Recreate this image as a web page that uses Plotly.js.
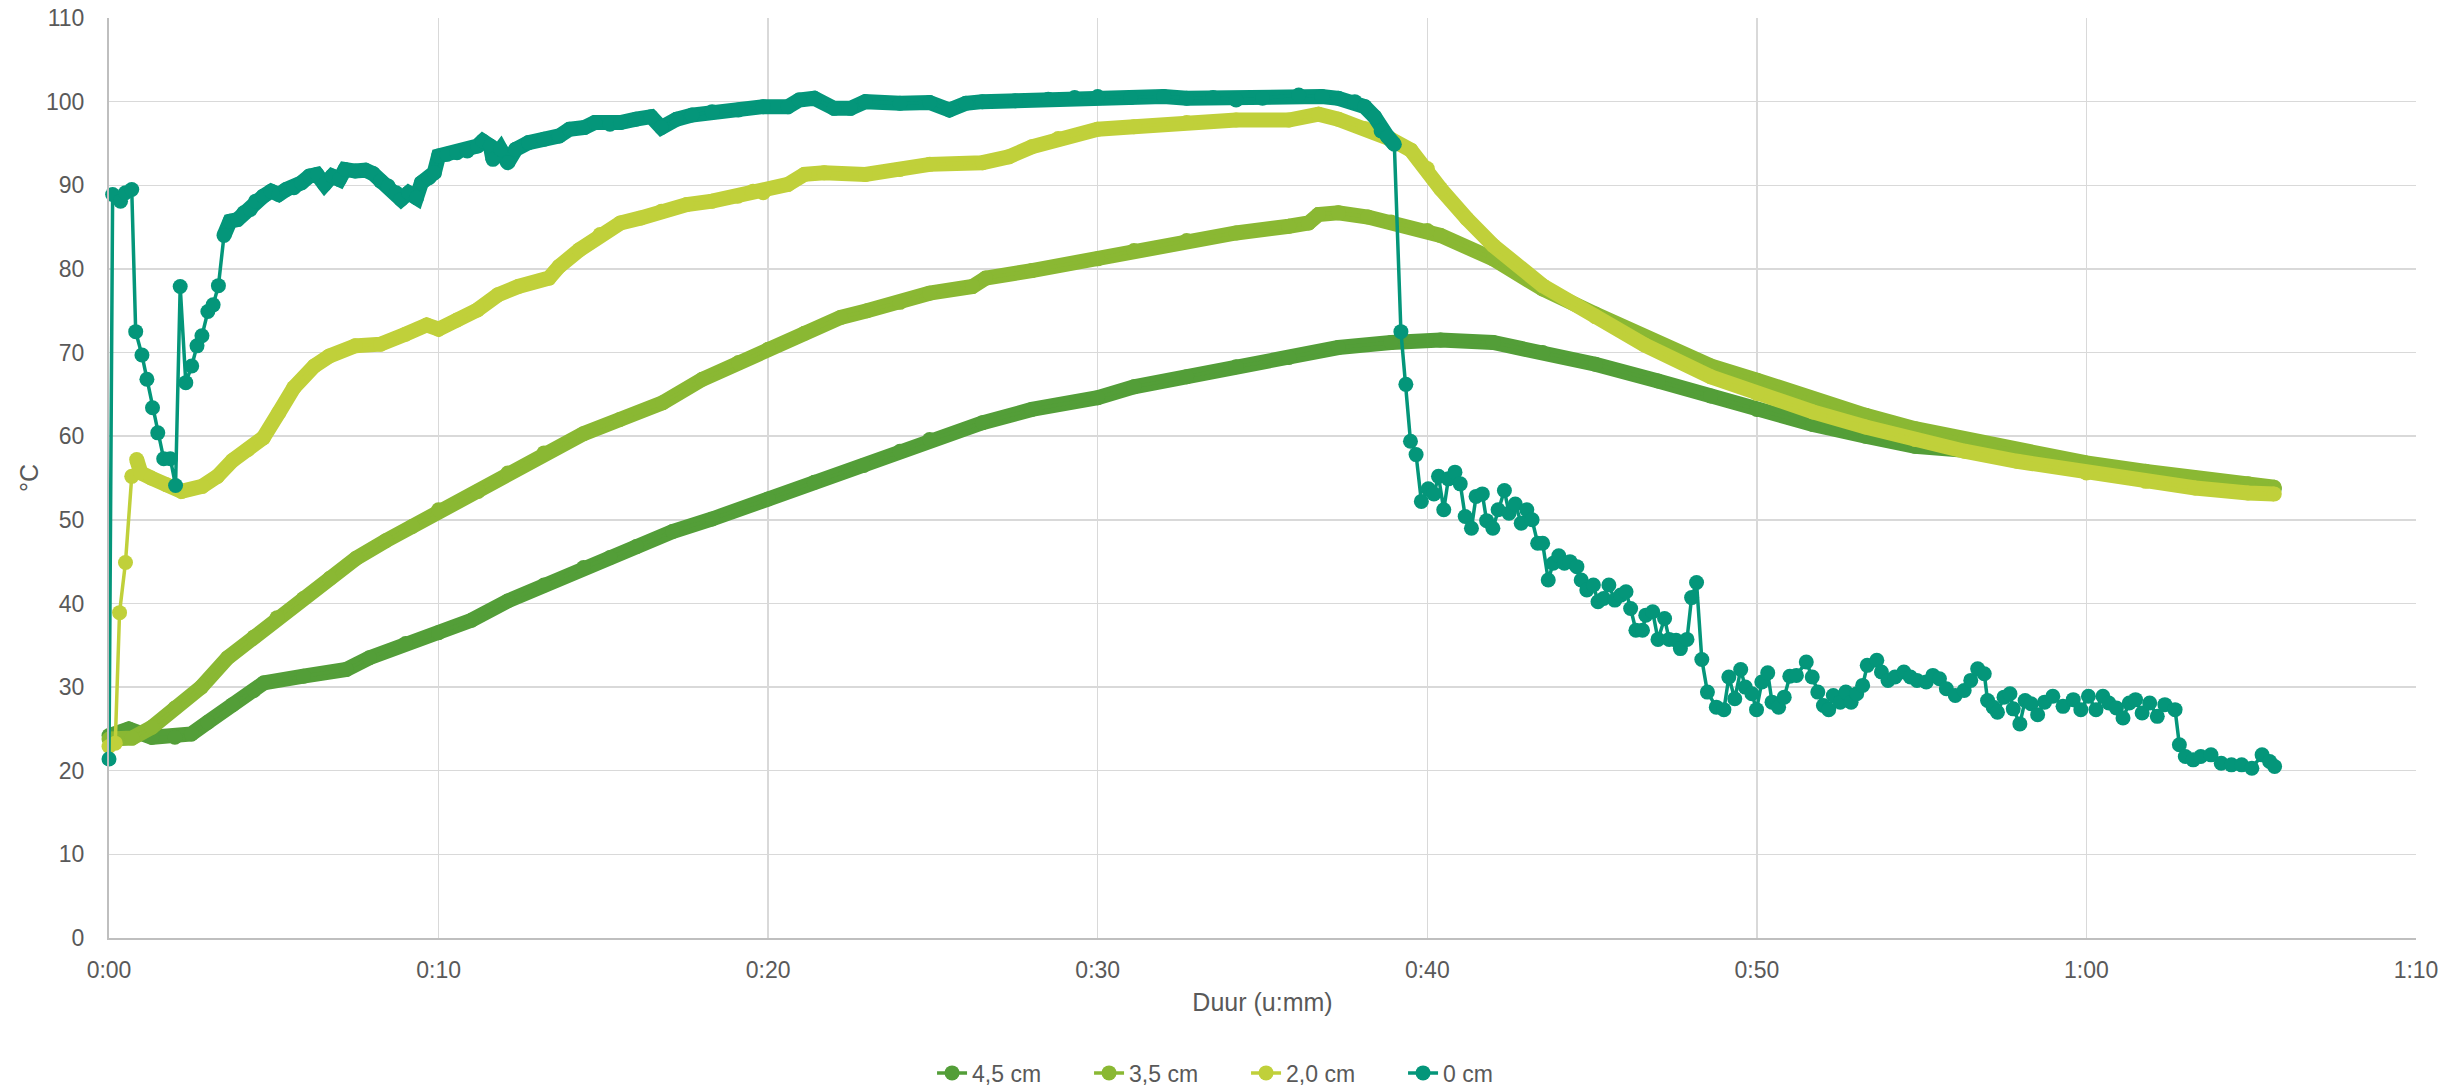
<!DOCTYPE html>
<html>
<head>
<meta charset="utf-8">
<script src="https://cdn.plot.ly/plotly-3.0.1.min.js"></script>
<style>
  html, body { margin: 0; padding: 0; background: #ffffff; }
  #chart { width: 2464px; height: 1087px; }
</style>
</head>
<body>
<div id="chart"></div>
<script>
// ---------- DATA (time in minutes, temperature in °C) ----------
const seriesNames = ['4,5 cm', '3,5 cm', '2,0 cm', '0 cm'];

const t45 = [0,0.6,1.3,2.0,2.5,3.0,3.75,4.4,4.7,5.9,
             7.2,7.9,9.0,10,11,12.1,13.2,14.4,15.2,16,
             17.1,18.3,20,21.4,22.9,24,24.9,26.5,28,30,
             31.1,32.7,34.2,35.8,37.3,38.9,40.4,42,43.5,45.1,
             47,48.6,50,51.7,53.3,54.8,56.3,57.9,60,61.8,
             63.3,64.9,65.7];
const v45 = [24.2,25.0,24.0,24.0,24.4,25.8,27.9,29.6,30.5,31.3,
             32.1,33.5,35.2,36.5,38.0,40.3,42.2,44.3,45.5,46.8,
             48.6,50.1,52.5,54.5,56.5,58.2,59.6,61.6,63.2,64.6,
             65.9,67.1,68.3,69.4,70.6,71.2,71.5,71.2,70.0,68.6,
             66.6,64.8,63.2,61.4,60.0,58.8,58.3,57.2,56.0,55.1,
             54.4,53.9,53.7];

const t35 = [0,0.7,1.3,2.0,2.8,3.6,4.4,5.1,5.9,6.7,
             7.5,8.4,9.2,10,11.2,12.1,13.2,14.4,15.5,16.8,
             18.0,19.1,20,21.1,22.2,23,24,24.9,26.2,26.6,
             28,30,31.1,32.7,34.2,35.8,36.4,36.7,37.3,38.2,
             38.9,40,40.4,42,43.5,45.1,47,48.6,50,51.7,
             53.3,54.8,56.3,57.9,60,61.8,63.3,64.9,65.7];
const v35 = [23.8,23.9,25.2,27.5,30.0,33.5,36.0,38.3,40.6,43.0,
             45.4,47.5,49.2,51.2,53.4,55.6,58.0,60.3,62.0,64.0,
             66.8,68.8,70.4,72.3,74.2,75.0,76.0,77.1,77.9,78.9,
             79.8,81.2,82.2,83.4,84.3,85.1,85.5,86.5,86.7,86.2,
             85.6,84.6,84.0,81.2,77.6,74.6,71.0,68.4,66.7,64.3,
             62.5,60.9,59.6,58.2,56.8,55.8,55.0,54.3,53.9];

const t20 = [0,0.19,0.32,0.5,0.69,0.84,0.97,1.28,1.74,2.2,
             2.83,3.29,3.75,4.22,4.68,5.15,5.61,6.23,6.69,7.47,
             8.24,9.0,9.64,10,10.56,11.18,11.8,12.42,13.35,13.66,
             14.28,14.9,15.52,16.14,16.76,17.53,18.3,19.08,19.54,19.85,
             20.6,21.1,21.7,22.95,24,24.9,26.5,27.3,28,28.8,
             30,31.1,32.7,34.2,35.8,36.7,37.3,38.1,38.9,39.5,
             40,40.4,41.2,42,43.5,45.1,46.6,48.6,50,51.7,
             53.3,54.8,56.3,57.9,60,61.8,63.3,64.9,65.7];
const v20 = [22.9,23.3,38.9,44.9,55.2,57.2,55.6,55.0,54.2,53.4,
             54.0,55.2,57.1,58.4,59.8,62.8,65.8,68.4,69.6,70.8,
             71.0,72.2,73.3,72.8,73.9,75.1,76.9,77.9,78.9,80.3,
             82.3,84.1,85.5,86.1,86.9,87.7,88.1,88.7,89.3,89.1,
             90.1,91.3,91.5,91.3,91.9,92.5,92.7,93.4,94.6,95.6,
             96.7,97.0,97.5,97.8,97.8,98.5,97.9,96.8,95.5,94.2,
             92.0,89.6,86.0,82.8,78.0,74.3,70.9,67.1,65.1,62.9,
             61.1,59.6,58.2,57.0,55.6,54.6,53.8,53.2,53.1];

const t0 = [0,0.11,0.35,0.5,0.69,0.81,1.0,1.15,1.32,1.48,
            1.66,1.86,2.02,2.16,2.33,2.51,2.67,2.82,3.0,3.16,
            3.32,3.49,3.67,3.9,4.09,4.29,4.45,4.68,4.92,5.15,
            5.38,5.61,5.84,6.08,6.31,6.54,6.77,6.99,7.16,7.47,
            7.78,8.01,8.24,8.47,8.71,8.86,9.09,9.33,9.48,9.71,
            9.87,10.0,10.25,10.56,10.87,11.18,11.34,11.57,11.65,11.88,
            12.1,12.34,12.73,13.2,13.66,13.97,14.43,14.74,15.2,15.52,
            15.99,16.45,16.76,17.22,17.69,18.3,19.1,19.85,20.6,20.94,
            21.4,22.0,22.5,22.95,24.0,24.9,25.5,26.0,26.5,27.5,
            28.5,29.3,30,31,32,32.7,33.5,34.2,35,36.1,
            36.8,37.3,37.8,38.1,38.4,38.6,38.8,39.0,39.2,39.35,
            39.49,39.66,39.82,40.03,40.2,40.34,40.5,40.64,40.84,41.0,
            41.15,41.34,41.48,41.67,41.8,41.99,42.15,42.34,42.48,42.67,
            42.85,43.02,43.18,43.35,43.5,43.67,43.82,43.99,44.16,44.33,
            44.54,44.67,44.84,45.04,45.18,45.35,45.51,45.69,45.87,46.03,
            46.17,46.33,46.53,46.63,46.84,47.0,47.2,47.34,47.55,47.68,
            47.88,48.02,48.17,48.33,48.5,48.77,49.0,49.15,49.33,49.51,
            49.65,49.85,49.99,50.15,50.33,50.46,50.66,50.83,51.0,51.2,
            51.5,51.68,51.85,52.02,52.18,52.32,52.53,52.7,52.86,53.03,
            53.21,53.35,53.64,53.78,53.98,54.19,54.46,54.66,54.86,55.14,
            55.34,55.54,55.75,56.02,56.29,56.49,56.7,56.9,57.0,57.17,
            57.3,57.5,57.68,57.78,57.98,58.14,58.32,58.52,58.73,58.98,
            59.29,59.6,59.83,60.06,60.29,60.5,60.68,60.91,61.11,61.3,
            61.49,61.69,61.92,62.15,62.38,62.69,62.82,63.0,63.24,63.47,
            63.78,64.09,64.4,64.71,65.02,65.33,65.56,65.71];
const v0 = [21.4,88.9,88.1,89.1,89.5,72.5,69.7,66.8,63.4,60.4,
            57.3,57.3,54.1,77.9,66.4,68.4,70.8,72.0,74.9,75.7,
            78.0,84.0,85.7,85.9,86.7,87.1,88.1,88.7,89.3,88.9,
            89.5,89.7,90.3,91.1,91.3,90.1,91.1,90.7,91.9,91.7,
            91.8,91.4,90.5,89.9,89.1,88.3,89.1,88.5,90.3,90.9,
            91.5,93.5,93.7,93.9,94.1,94.7,95.3,94.7,93.1,94.3,
            92.7,94.3,95.1,95.5,95.9,96.7,96.9,97.5,97.3,97.5,
            97.9,98.2,96.9,97.9,98.4,98.8,99.0,99.4,99.4,100.2,
            100.4,99.2,99.2,100.0,99.8,99.9,99.0,99.8,100.0,100.1,
            100.3,100.5,100.6,100.5,100.6,100.4,100.5,100.2,100.4,100.8,
            100.6,100.4,100.0,99.4,98.2,96.5,95.8,94.9,72.5,66.2,
            59.4,57.8,52.2,53.7,53.1,55.2,51.2,54.9,55.7,54.3,
            50.4,49.0,52.8,53.1,49.9,49.0,51.2,53.5,50.8,51.9,
            49.6,51.2,50.0,47.2,47.2,42.8,44.8,45.7,44.8,45.0,
            44.4,42.8,41.6,42.2,40.2,40.6,42.2,40.4,41.0,41.4,
            39.4,36.8,36.8,38.6,39.0,35.7,38.2,35.7,35.6,34.6,
            35.7,40.7,42.5,33.3,29.4,27.6,27.3,31.2,28.6,32.1,
            30.0,29.2,27.3,30.6,31.7,28.2,27.6,28.8,31.3,31.4,
            33.0,31.2,29.4,27.8,27.3,29.0,28.2,29.4,28.2,29.2,
            30.2,32.6,33.2,31.8,30.8,31.2,31.8,31.2,30.8,30.6,
            31.4,31.0,29.8,29.0,29.6,30.8,32.2,31.6,28.4,27.6,
            27.0,28.8,29.2,27.4,25.6,28.4,28.0,26.7,28.2,28.9,
            27.7,28.5,27.3,28.9,27.3,28.9,28.1,27.5,26.3,28.1,
            28.5,26.9,28.1,26.5,27.9,27.3,23.1,21.7,21.3,21.7,
            21.9,20.9,20.7,20.7,20.3,21.9,21.1,20.5];

const xTickVals = [0, 10, 20, 30, 40, 50, 60, 70];
const xTickText = ['0:00', '0:10', '0:20', '0:30', '0:40', '0:50', '1:00', '1:10'];
const yTickVals = [0, 10, 20, 30, 40, 50, 60, 70, 80, 90, 100, 110];

// ---------- STYLE ----------
const colors = ['#539E38', '#8AB833', '#C0D03A', '#04967A'];
const allT = [t45, t35, t20, t0];
const allV = [v45, v35, v20, v0];
// time windows in which the dense samples merge into a solid band
const bandWindows = [[0, 999], [0, 999], [0.84, 999], [3.4, 39.05]];

function windowed(ts, vs, lo, hi) {
  const x = [], y = [];
  ts.forEach((t, i) => { if (t >= lo && t <= hi) { x.push(t); y.push(vs[i]); } });
  return { x, y };
}

const traces = [];
for (let k = 0; k < 4; k++) {
  const w = windowed(allT[k], allV[k], bandWindows[k][0], bandWindows[k][1]);
  traces.push({
    type: 'scatter', mode: 'lines', x: w.x, y: w.y,
    line: { color: colors[k], width: 15 },
    showlegend: false, hoverinfo: 'skip', cliponaxis: false
  });
  traces.push({
    type: 'scatter', mode: 'lines+markers', name: seriesNames[k],
    x: allT[k], y: allV[k],
    line: { color: colors[k], width: 3.5 },
    marker: { color: colors[k], size: 15 },
    cliponaxis: false
  });
}

const fam = 'Liberation Sans, Arial, sans-serif';
const axisFont = { family: fam, size: 23, color: '#595959' };

const layout = {
  width: 2464, height: 1087,
  paper_bgcolor: '#ffffff', plot_bgcolor: '#ffffff',
  margin: { l: 109, r: 48, t: 18, b: 149, pad: 0, autoexpand: false },
  font: axisFont,
  showlegend: true,
  xaxis: {
    range: [0, 70], tickmode: 'array', tickvals: xTickVals, ticktext: xTickText,
    showgrid: true, gridcolor: '#d9d9d9', gridwidth: 1.5,
    showline: true, linecolor: '#bfbfbf', linewidth: 2,
    zeroline: false, ticks: '', ticklabelstandoff: 10,
    tickfont: axisFont, automargin: false,
    title: { text: 'Duur (u:mm)', font: { family: fam, size: 25, color: '#595959' }, standoff: 12 }
  },
  yaxis: {
    range: [0, 110], tickmode: 'array', tickvals: yTickVals,
    showgrid: true, gridcolor: '#d9d9d9', gridwidth: 1.5,
    showline: true, linecolor: '#bfbfbf', linewidth: 2,
    zeroline: false, ticks: '', ticklabelstandoff: 18,
    tickfont: axisFont, automargin: false,
    title: { text: '°C', font: { family: fam, size: 25, color: '#595959' }, standoff: 0 }
  },
  legend: {
    orientation: 'h', xref: 'container', yref: 'container',
    x: 0.5057, xanchor: 'center', y: 0.0129, yanchor: 'middle',
    font: axisFont, bgcolor: 'rgba(0,0,0,0)', entrywidth: 112, entrywidthmode: 'pixels',
    itemsizing: 'trace'
  }
};

Plotly.newPlot('chart', traces, layout, { displayModeBar: false, staticPlot: true });
</script>
</body>
</html>
